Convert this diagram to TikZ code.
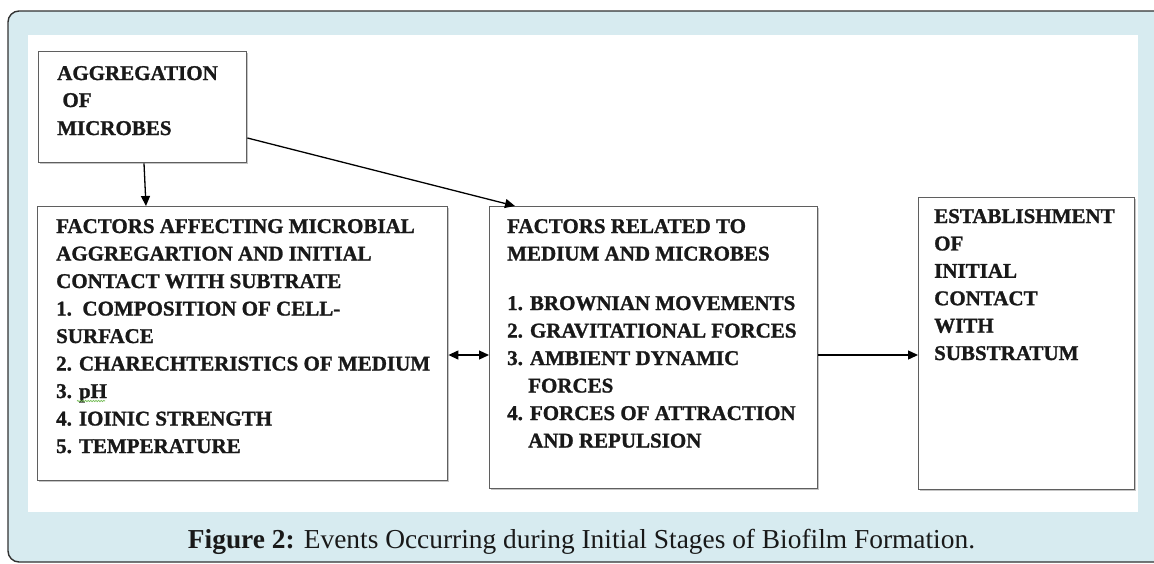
\documentclass[tikz,border=0pt]{standalone}
\usepackage{fontspec}
\setmainfont{Liberation Serif}
\newfontfamily\boxfont{Liberation Serif}[BoldFeatures={FakeBold=1.2}]
\usetikzlibrary{arrows.meta,calc,shadows,decorations.pathmorphing}
\definecolor{panel}{RGB}{215,235,240}
\definecolor{frameline}{RGB}{50,50,50}
\definecolor{boxline}{RGB}{95,95,95}
\definecolor{ink}{RGB}{25,25,25}
\definecolor{squig}{RGB}{120,190,90}
\begin{document}
\begin{tikzpicture}[x=1pt,y=-1pt,
  boxnode/.style={draw=boxline, line width=1.4pt, fill=white, anchor=north west,
    inner sep=0pt, rectangle,
    drop shadow={shadow xshift=0.8pt, shadow yshift=-1.3pt, opacity=0.45, fill=gray}},
  lbl/.style={anchor=base west, inner sep=0pt, font=\boxfont\fontsize{21}{24}\selectfont\bfseries, text=ink},
  conn/.style={draw=black, line width=1.3pt},
  tip/.style={-{Triangle[length=10pt,width=9pt]}},
  tips/.style={{Triangle[length=10pt,width=9pt]}-{Triangle[length=10pt,width=9pt]}},
]
\useasboundingbox (0,0) rectangle (1154,563);
\begin{scope}
\clip (0,0) rectangle (1154,563);
\draw[draw=frameline, line width=1.4pt, fill=panel, rounded corners=11pt] (8,11) rectangle (1190,562);
\fill[white] (28,35) rectangle (1138,512);
\end{scope}

% boxes
\node[boxnode, minimum width=208pt, minimum height=111pt] (A) at (38,51) {};
\node[boxnode, minimum width=410pt, minimum height=274pt] (B) at (37,206) {};
\node[boxnode, minimum width=328pt, minimum height=282pt] (C) at (489,206) {};
\node[boxnode, minimum width=216pt, minimum height=292pt] (D) at (918,197) {};

% texts
\node[lbl] (a1) at (57,80) {AGGREGATION};
\node[lbl] (a2) at (57,107) {\ OF};
\node[lbl] (a3) at (57,135) {MICROBES};

\foreach \t [count=\i] in {FACTORS AFFECTING MICROBIAL,AGGREGARTION AND INITIAL,CONTACT WITH SUBTRATE,1.\ \ COMPOSITION OF CELL-,SURFACE,2. CHARECHTERISTICS OF MEDIUM,3. pH,4. IOINIC STRENGTH,5. TEMPERATURE}
  \node[lbl] (b\i) at (56,{233+(\i-1)*27.5}) {\t};

\foreach \t/\y [count=\i] in {FACTORS RELATED TO/233,MEDIUM AND MICROBES/260.5,1. BROWNIAN MOVEMENTS/310,2. GRAVITATIONAL FORCES/337.5,3. AMBIENT DYNAMIC/365,\hspace*{21pt}FORCES/392.5,4. FORCES OF ATTRACTION/420,\hspace*{21pt}AND REPULSION/447.5}
  \node[lbl] (c\i) at (507,\y) {\t};

\foreach \t [count=\i] in {ESTABLISHMENT,OF,INITIAL,CONTACT,WITH,SUBSTRATUM}
  \node[lbl] (d\i) at (934,{223+(\i-1)*27.4}) {\t};

% spell-check squiggle under pH
\coordinate (sq1) at (77,401);
\coordinate (sq2) at (105,401);
\draw[squig, line width=0.7pt, decorate, decoration={snake, amplitude=0.7pt, segment length=2.6pt}] (sq1) -- (sq2);

% caption
\node[anchor=base, inner sep=0pt, font=\fontsize{27.4}{30}\selectfont, text=ink] (cap) at (581.5,548)
  {\textbf{Figure 2:} Events Occurring during Initial Stages of Biofilm Formation.};

% connectors
\coordinate (mid) at (0,355);
\draw[conn, tip] ($(A.south west)+(106,0)$) -- ($(B.north west)+(109,0)$);
\draw[conn, tip] ($(A.north east)+(0,87)$) -- ($(C.north west)+(26,0)$);
\draw[conn, tips] (B.east |- mid) -- (C.west |- mid);
\draw[conn, tip] (C.east |- mid) -- (D.west |- mid);
\end{tikzpicture}
\end{document}
